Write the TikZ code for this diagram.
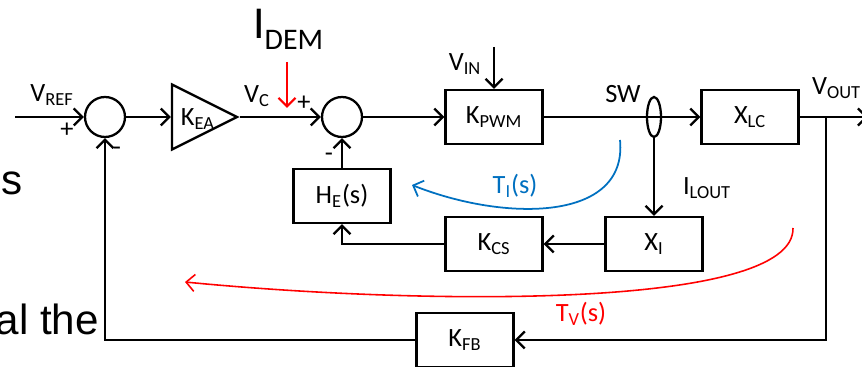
\documentclass[tikz,border=0pt]{standalone}
\usepackage{fontspec}
\setmainfont{Carlito}
\newfontfamily\slidefont{Liberation Sans}
\usetikzlibrary{arrows.meta,shapes.geometric}
\definecolor{tvred}{RGB}{255,0,0}
\definecolor{tiblue}{RGB}{0,112,192}
\tikzset{
  blk/.style={draw,minimum width=1.94cm,minimum height=1.08cm,inner sep=0pt},
  sumc/.style={circle,draw,minimum size=0.8cm,inner sep=0pt},
  frag/.style={anchor=base east,inner sep=0pt,font=\slidefont\fontsize{24}{24}\selectfont}
}
\newcommand{\sig}[2]{#1\textsubscript{#2}}
\begin{document}
\begin{tikzpicture}[x=0.02cm,y=-0.02cm,line width=1.3pt,
  >={Straight Barb[length=1.7mm,width=3.4mm]},
  font=\fontsize{15}{18}\selectfont]
\useasboundingbox (0,0) rectangle (862,367);

\node[frag] (es) at (24,195) {es};
\node[frag] (althe) at (100,335) {al the};

\node[sumc] (s1) at (105,117) {};
\node[draw,isosceles triangle,isosceles triangle stretches,
  minimum width=1.3cm,minimum height=1.3cm,inner sep=0pt,anchor=apex] (kea) at (240,117) {};
\node (kealbl) at (198,119) {\sig{K}{EA}};
\node[sumc] (s2) at (342,117) {};
\node[blk] (kpwm) at (494,117) {\sig{K}{PWM}};
\node[draw,ellipse,minimum width=0.28cm,minimum height=0.8cm,inner sep=0pt] (sw) at (654,117) {};
\node[blk] (xlc) at (750,117) {\sig{X}{LC}};
\node[blk] (he) at (342,196) {\sig{H}{E}(s)};
\node[blk] (kcs) at (494,244) {\sig{K}{CS}};
\node[blk] (xi) at (654,244) {\sig{X}{I}};
\node[blk] (kfb) at (465,340) {\sig{K}{FB}};

\coordinate (in) at (15,117);
\coordinate (vin) at (494,47);
\coordinate (vout) at (826,117);
\coordinate (out) at (868,117);
\coordinate (fbr) at (826,340);
\coordinate (fbl) at (105,340);
\coordinate (csl) at (342,244);
\coordinate (dtop) at (287,62);
\coordinate (dbot) at (287,108);
\coordinate (tis) at (620,140);
\coordinate (tie) at (412,185);
\coordinate (tvs) at (793,228);
\coordinate (tve) at (185,282);

\node (lvref) at (52,95) {\sig{V}{REF}};
\node (p1) at (67,130) {+};
\node (m1) at (117,151) {-};
\node (lvc) at (257,96) {\sig{V}{C}};
\node (p2) at (304,103) {+};
\node (m2) at (329,157) {-};
\node (lvin) at (465,64) {\sig{V}{IN}};
\node (lsw) at (623,94) {SW};
\node[anchor=west,inner sep=0pt] (lvout) at (811,88) {\sig{V}{OUT}};
\node (lilout) at (707,188) {\sig{I}{LOUT}};
\node[text=tiblue] (lti) at (515,186) {\sig{T}{I}(s)};
\node[text=tvred] (ltv) at (581,314) {\sig{T}{V}(s)};
\node[anchor=base west,inner sep=0pt] (lidem) at (252,39)
  {\fontsize{26}{26}\selectfont I\raisebox{-6pt}{\fontsize{17}{17}\selectfont DEM}};

\draw[->] (in) -- (s1);
\draw[->] (s1) -- (kea.lower side);
\draw[->] (kea.apex) -- (s2);
\draw[->] (s2) -- (kpwm);
\draw[->] (vin) -- (kpwm);
\draw[->] (kpwm) -- (xlc);
\draw[->] (sw) -- (xi);
\draw (xlc) -- (vout);
\draw[->] (vout) -- (out);
\draw[->] (vout) -- (fbr) -- (kfb);
\draw[->] (kfb) -- (fbl) -- (s1);
\draw[->] (xi) -- (kcs);
\draw[->] (kcs) -- (csl) -- (he);
\draw[->] (he) -- (s2);
\draw[->,tvred] (dtop) -- (dbot);
\draw[->,tiblue,line width=1pt] (tis) .. controls (628,222) and (505,222) .. (tie);
\draw[->,tvred,line width=0.9pt] (tvs) .. controls (795,310) and (420,305) .. (tve);
\end{tikzpicture}
\end{document}
